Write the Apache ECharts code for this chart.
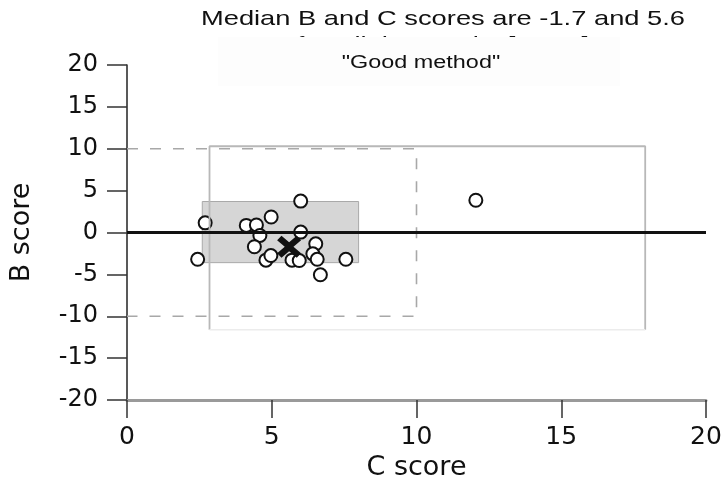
<!DOCTYPE html>
<html>
<head>
<meta charset="utf-8">
<script src="https://cdn.jsdelivr.net/npm/echarts@6/dist/echarts.min.js"></script>
<style>html,body{margin:0;padding:0;background:#fff}#c{width:721px;height:482px}</style>
</head>
<body>
<div id="c"></div>
<script>
// ---- data ----
const titleLine1 = 'Median B and C scores are -1.7 and 5.6';
const titleLine2 = 'for All the results [11AR]';
const boxLabel = '"Good method"';
const xName = 'C score';
const yName = 'B score';
const xTicks = [0, 5, 10, 15, 20];
const yTicks = [-20, -15, -10, -5, 0, 5, 10, 15, 20];
const cScores = [6.0, 2.7, 4.12, 4.47, 4.98, 4.59, 4.40, 6.0, 2.44, 4.8, 4.97, 5.7, 5.95, 6.52, 6.42, 6.57, 6.68, 7.56, 12.05];
const bScores = [3.75, 1.15, 0.85, 0.9, 1.85, -0.35, -1.7, 0.05, -3.2, -3.3, -2.75, -3.3, -3.35, -1.35, -2.55, -3.2, -5.05, -3.2, 3.85];
const medianC = 5.6;
const medianB = -1.7;
// limit boxes [cMin, cMax, bMin, bMax]
const dashedBox = [0, 10, -10, 10];
const outerBox = [2.85, 17.9, -11.6, 10.3];
const iqrBox = [2.6, 8.0, -3.6, 3.7];

const points = cScores.map((c, i) => [c, bScores[i]]);

const chart = echarts.init(document.getElementById('c'), null, {renderer: 'canvas'});
const font = 'DejaVu Sans';
chart.setOption({
  animation: false,
  backgroundColor: '#fff',
  grid: {left: 127, right: 15, top: 65, bottom: 82, containLabel: false, outerBoundsMode: 'none'},
  xAxis: {
    type: 'value', min: xTicks[0], max: xTicks[xTicks.length - 1], interval: 5,
    name: xName, nameLocation: 'middle', nameGap: 48,
    nameTextStyle: {fontFamily: font, fontSize: 27, color: '#111'},
    splitLine: {show: false},
    axisLine: {onZero: false, lineStyle: {color: '#9a9a9a', width: 3}},
    axisTick: {length: 18, lineStyle: {color: '#333', width: 1.5}},
    axisLabel: {fontFamily: font, fontSize: 25, color: '#111', margin: 25}
  },
  yAxis: {
    type: 'value', min: yTicks[0], max: yTicks[yTicks.length - 1], interval: 5,
    name: yName, nameLocation: 'middle', nameGap: 92, nameRotate: 90,
    nameTextStyle: {fontFamily: font, fontSize: 27, color: '#111'},
    splitLine: {show: false},
    axisLine: {onZero: false, lineStyle: {color: '#222', width: 1.5}},
    axisTick: {length: 20, lineStyle: {color: '#333', width: 1.5}},
    axisLabel: {fontFamily: font, fontSize: 24, color: '#111', margin: 29}
  },
  series: [
    {
      type: 'line', silent: true, symbol: 'none',
      data: [[dashedBox[0], dashedBox[3]], [dashedBox[1], dashedBox[3]], [dashedBox[1], dashedBox[2]], [dashedBox[0], dashedBox[2]]],
      lineStyle: {color: '#a8a8a8', width: 1.6, type: [11, 12]}
    },
    {
      type: 'line', silent: true, symbol: 'none',
      data: [[outerBox[0], outerBox[2]], [outerBox[0], outerBox[3]], [outerBox[1], outerBox[3]], [outerBox[1], outerBox[2]]],
      lineStyle: {color: '#b8b8b8', width: 1.8}
    },
    {
      type: 'line', silent: true, symbol: 'none',
      data: [[outerBox[0], outerBox[2]], [outerBox[1], outerBox[2]]],
      lineStyle: {color: '#ececec', width: 1.5}
    },
    {
      type: 'line', silent: true, symbol: 'none',
      data: [[xTicks[0], 0], [xTicks[xTicks.length - 1], 0]],
      lineStyle: {color: '#111', width: 3},
      markArea: {
        silent: true,
        itemStyle: {color: '#d6d6d6', borderColor: '#a9a9a9', borderWidth: 1},
        data: [[{coord: [iqrBox[0], iqrBox[2]]}, {coord: [iqrBox[1], iqrBox[3]]}]]
      }
    },
    {
      type: 'scatter', silent: true, symbol: 'circle', symbolSize: 13,
      data: points,
      itemStyle: {color: '#fff', borderColor: '#111', borderWidth: 2, opacity: 1}
    },
    {
      type: 'scatter', silent: true, z: 4,
      symbol: 'path://M4,0 L11,6 L18,0 L22,4 L15,10 L22,16 L18,20 L11,14 L4,20 L0,16 L7,10 L0,4 Z',
      symbolSize: [24, 22],
      data: [[medianC, medianB]],
      itemStyle: {color: '#111', opacity: 1}
    }
  ],
  graphic: [
    {type: 'text', x: 443, y: 19, z: 5, scaleX: 1.3,
     style: {text: titleLine1, fontFamily: 'Liberation Sans', fontSize: 21, fill: '#111', textAlign: 'center', textVerticalAlign: 'middle', align: 'center', verticalAlign: 'middle'}},
    {type: 'text', x: 443, y: 45, z: 5, scaleX: 1.3,
     style: {text: titleLine2, fontFamily: 'Liberation Sans', fontSize: 21, fill: '#111', textAlign: 'center', textVerticalAlign: 'middle', align: 'center', verticalAlign: 'middle'}},
    {type: 'rect', z: 10, shape: {x: 218, y: 37, width: 402, height: 49}, style: {fill: '#fdfdfd'}},
    {type: 'text', x: 421, y: 63, z: 11, scaleX: 1.3,
     style: {text: boxLabel, fontFamily: 'Liberation Sans', fontSize: 18, fill: '#111', textAlign: 'center', textVerticalAlign: 'middle', align: 'center', verticalAlign: 'middle'}}
  ]
});
</script>
</body>
</html>
